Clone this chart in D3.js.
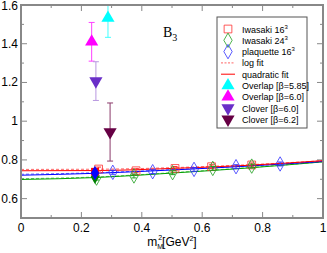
<!DOCTYPE html>
<html>
<head>
<meta charset="utf-8">
<script src="https://cdn.jsdelivr.net/npm/d3@7"></script>
<style>
body { margin: 0; background: #fff; }
text { font-family: "Liberation Sans", Arial, sans-serif; }
</style>
</head>
<body>
<div id="chart"></div>
<script>
// data
var iwa16X = [0.257, 0.381, 0.51, 0.631, 0.764];
var iwa16Y = [0.753, 0.744, 0.756, 0.765, 0.774];
var iwa24X = [0.25, 0.374, 0.502, 0.635, 0.764];
var iwa24Y = [0.706, 0.717, 0.734, 0.756, 0.768];
var plaqX = [0.304, 0.436, 0.573, 0.712, 0.858];
var plaqY = [0.736, 0.739, 0.751, 0.765, 0.779];
var ptErr = 0.01;

// extrapolated (filled) points
var extX = 0.245;
var extY = { iwa16: 0.739, iwa24: 0.713, plaq: 0.732 };

// fit curves
var fitX = [0, 0.25, 0.5, 0.75, 1];
var logFit16 = [0.751, 0.752, 0.760, 0.775, 0.796];
var quadFit16 = [0.744, 0.745, 0.756, 0.772, 0.796];
var logFit24 = [0.703, 0.712, 0.734, 0.760, 0.790];
var quadFit24 = [0.699, 0.709, 0.732, 0.758, 0.790];
var logFitPl = [0.726, 0.734, 0.750, 0.769, 0.792];
var quadFitPl = [0.721, 0.731, 0.748, 0.768, 0.792];

// other groups
var others = ["Overlap [β=5.85]", "Overlap [β=6.0]", "Clover [β=6.0]", "Clover [β=6.2]"];
var othersX = [0.288, 0.234, 0.248, 0.295];
var othersY = [1.533, 1.41, 1.207, 0.944];
var othersErr = [0.1, 0.1, 0.1, 0.15];

var xTicks = [0, 0.2, 0.4, 0.6, 0.8, 1];
var yTicks = [0.6, 0.8, 1, 1.2, 1.4, 1.6];

var W = 327, H = 253;
var L = 21, R = 323, T = 5, B = 218;

var svg = d3.select("#chart").append("svg")
  .attr("width", W).attr("height", H);

var x = d3.scaleLinear().domain([0, 1]).range([L, R]);
var y = d3.scaleLinear().domain([0.5, 1.6]).range([B, T]);

var defs = svg.append("defs");
defs.append("clipPath").attr("id", "clip")
  .append("rect").attr("x", L).attr("y", T).attr("width", R - L).attr("height", B - T);

var gray = "#888";

// ticks on all four sides, pointing in
function xTickMarks(yy, dir) {
  d3.range(0, 1.0001, 0.1).forEach(function(v, i) {
    var len = (i % 2 == 0) ? 6 : 3;
    svg.append("line")
      .attr("x1", x(v)).attr("x2", x(v))
      .attr("y1", yy).attr("y2", yy + dir * len)
      .style("stroke", gray).style("stroke-width", 1);
  });
}
function yTickMarks(xx, dir) {
  d3.range(0.5, 1.6001, 0.1).forEach(function(v, i) {
    var len = (i % 2 == 1) ? 6 : 3;
    svg.append("line")
      .attr("x1", xx).attr("x2", xx + dir * len)
      .attr("y1", y(v)).attr("y2", y(v))
      .style("stroke", gray).style("stroke-width", 1);
  });
}
xTickMarks(B, -1);
xTickMarks(T, 1);
yTickMarks(L, 1);
yTickMarks(R, -1);

xTicks.forEach(function(v) {
  svg.append("text").attr("x", x(v)).attr("y", B + 14)
    .attr("text-anchor", "middle").style("font-size", "12px").text(v);
});
yTicks.forEach(function(v) {
  svg.append("text").attr("x", L - 3).attr("y", Math.max(y(v) + 4, 10))
    .attr("text-anchor", "end").style("font-size", "12px").text(v);
});

// x label
var xl = svg.append("text").attr("x", 172).attr("y", 246)
  .attr("text-anchor", "middle").style("font-size", "12px");
xl.append("tspan").text("m");
xl.append("tspan").attr("dy", 3).style("font-size", "7px").text("M");
xl.append("tspan").attr("dx", -5).attr("dy", -9).style("font-size", "7px").text("2");
xl.append("tspan").attr("dy", 6).text("[GeV");
xl.append("tspan").attr("dy", -5).style("font-size", "7px").text("2");
xl.append("tspan").attr("dy", 5).text("]");

var plot = svg.append("g").attr("clip-path", "url(#clip)");

// fit lines
var line = d3.line().curve(d3.curveMonotoneX)
  .x(function(d) { return x(d[0]); })
  .y(function(d) { return y(d[1]); });

function fit(vals, col, dash) {
  plot.append("path")
    .datum(fitX.map(function(v, i) { return [v, vals[i]]; }))
    .attr("d", line)
    .style("fill", "none").style("stroke", col).style("stroke-width", 1)
    .style("stroke-dasharray", dash ? "3,2" : null)
    .style("opacity", dash ? 0.6 : 1);
}
fit(logFit24, "#00a000", true);
fit(quadFit24, "#00a000", false);
fit(logFitPl, "#0000ff", true);
fit(quadFitPl, "#0000ff", false);
fit(logFit16, "#ff0000", true);
fit(quadFit16, "#ff0000", false);

function errBar(xv, yv, e, col, cap) {
  plot.append("line").attr("x1", x(xv)).attr("x2", x(xv))
    .attr("y1", y(yv - e)).attr("y2", y(yv + e))
    .style("stroke", col).style("stroke-width", 1);
  [yv - e, yv + e].forEach(function(v) {
    plot.append("line").attr("x1", x(xv) - cap).attr("x2", x(xv) + cap)
      .attr("y1", y(v)).attr("y2", y(v))
      .style("stroke", col).style("stroke-width", 1);
  });
}

var sqr = d3.symbol().type(d3.symbolSquare).size(60);
var dia = d3.symbol().type(d3.symbolDiamond).size(60);
var tri = d3.symbol().type(d3.symbolTriangle).size(75);

function openPts(xs, ys, sym, col) {
  xs.forEach(function(v, i) {
    errBar(v, ys[i], ptErr, col, 2.5);
    plot.append("path").attr("d", sym)
      .attr("transform", "translate(" + x(v) + "," + y(ys[i]) + ")")
      .style("fill", "none").style("stroke", col).style("stroke-width", 0.8);
  });
}
openPts(iwa16X, iwa16Y, sqr, "#ff3030");
openPts(iwa24X, iwa24Y, dia, "#20a020");
openPts(plaqX, plaqY, dia, "#3030ff");

// filled extrapolated points
[["iwa24", dia, "#008000"], ["iwa16", sqr, "#ff0000"], ["plaq", dia, "#0000ff"]].forEach(function(p) {
  plot.append("path").attr("d", p[1])
    .attr("transform", "translate(" + x(extX) + "," + y(extY[p[0]]) + ")")
    .style("fill", p[2]);
});

// overlap & clover
var oCol = ["#00ffff", "#ff00ff", "#6a2fc8", "#660044"];
var oErrCol = ["#40ffff", "#ff40ff", "#b898e0", "#8a3a6a"];
var oDown = [false, false, true, true];
others.forEach(function(n, i) {
  errBar(othersX[i], othersY[i], othersErr[i], oErrCol[i], 3);
  plot.append("path").attr("d", tri)
    .attr("transform", "translate(" + x(othersX[i]) + "," + y(othersY[i]) + ")" + (oDown[i] ? " rotate(180)" : ""))
    .style("fill", oCol[i]);
});

// frame
svg.append("rect").attr("x", L).attr("y", T).attr("width", R - L).attr("height", B - T)
  .style("fill", "none").style("stroke", gray).style("stroke-width", 2);

// B_3 label
var bl = svg.append("text").attr("x", 163).attr("y", 37)
  .style("font-family", "'Liberation Serif', serif").style("font-size", "14px");
bl.append("tspan").text("B");
bl.append("tspan").attr("dy", 4).style("font-size", "10px").text("3");

// legend
var lg = svg.append("g");
lg.append("rect").attr("x", 217).attr("y", 17).attr("width", 90).attr("height", 111)
  .style("fill", "#fff").style("stroke", "#555").style("stroke-width", 1);

var legLabels = ["Iwasaki 16", "Iwasaki 24", "plaquette 16", "log fit", "quadratic fit"].concat(others);
legLabels.forEach(function(t, i) {
  var ly = 29 + i * 11.3;
  var txt = lg.append("text").attr("x", 242).attr("y", ly + 3.5).style("font-size", "9px").text(t);
  if (i < 3) txt.append("tspan").attr("dy", -4).style("font-size", "6px").text("3");
  var sx = 228;
  if (i == 0) lg.append("path").attr("d", sqr).attr("transform", "translate(" + sx + "," + ly + ")")
    .style("fill", "none").style("stroke", "#ff3030").style("stroke-width", 0.8);
  if (i == 1) lg.append("path").attr("d", dia).attr("transform", "translate(" + sx + "," + ly + ")")
    .style("fill", "none").style("stroke", "#20a020").style("stroke-width", 0.8);
  if (i == 2) lg.append("path").attr("d", dia).attr("transform", "translate(" + sx + "," + ly + ")")
    .style("fill", "none").style("stroke", "#3030ff").style("stroke-width", 0.8);
  if (i == 3 || i == 4) lg.append("line").attr("x1", sx - 7).attr("x2", sx + 7)
    .attr("y1", ly).attr("y2", ly).style("stroke", "#ff0000").style("stroke-width", 1)
    .style("stroke-dasharray", i == 3 ? "2,1.5" : null).style("opacity", i == 3 ? 0.6 : 1);
  if (i >= 5) lg.append("path").attr("d", tri)
    .attr("transform", "translate(" + sx + "," + ly + ")" + (oDown[i - 5] ? " rotate(180)" : ""))
    .style("fill", oCol[i - 5]);
});
</script>
</body>
</html>
